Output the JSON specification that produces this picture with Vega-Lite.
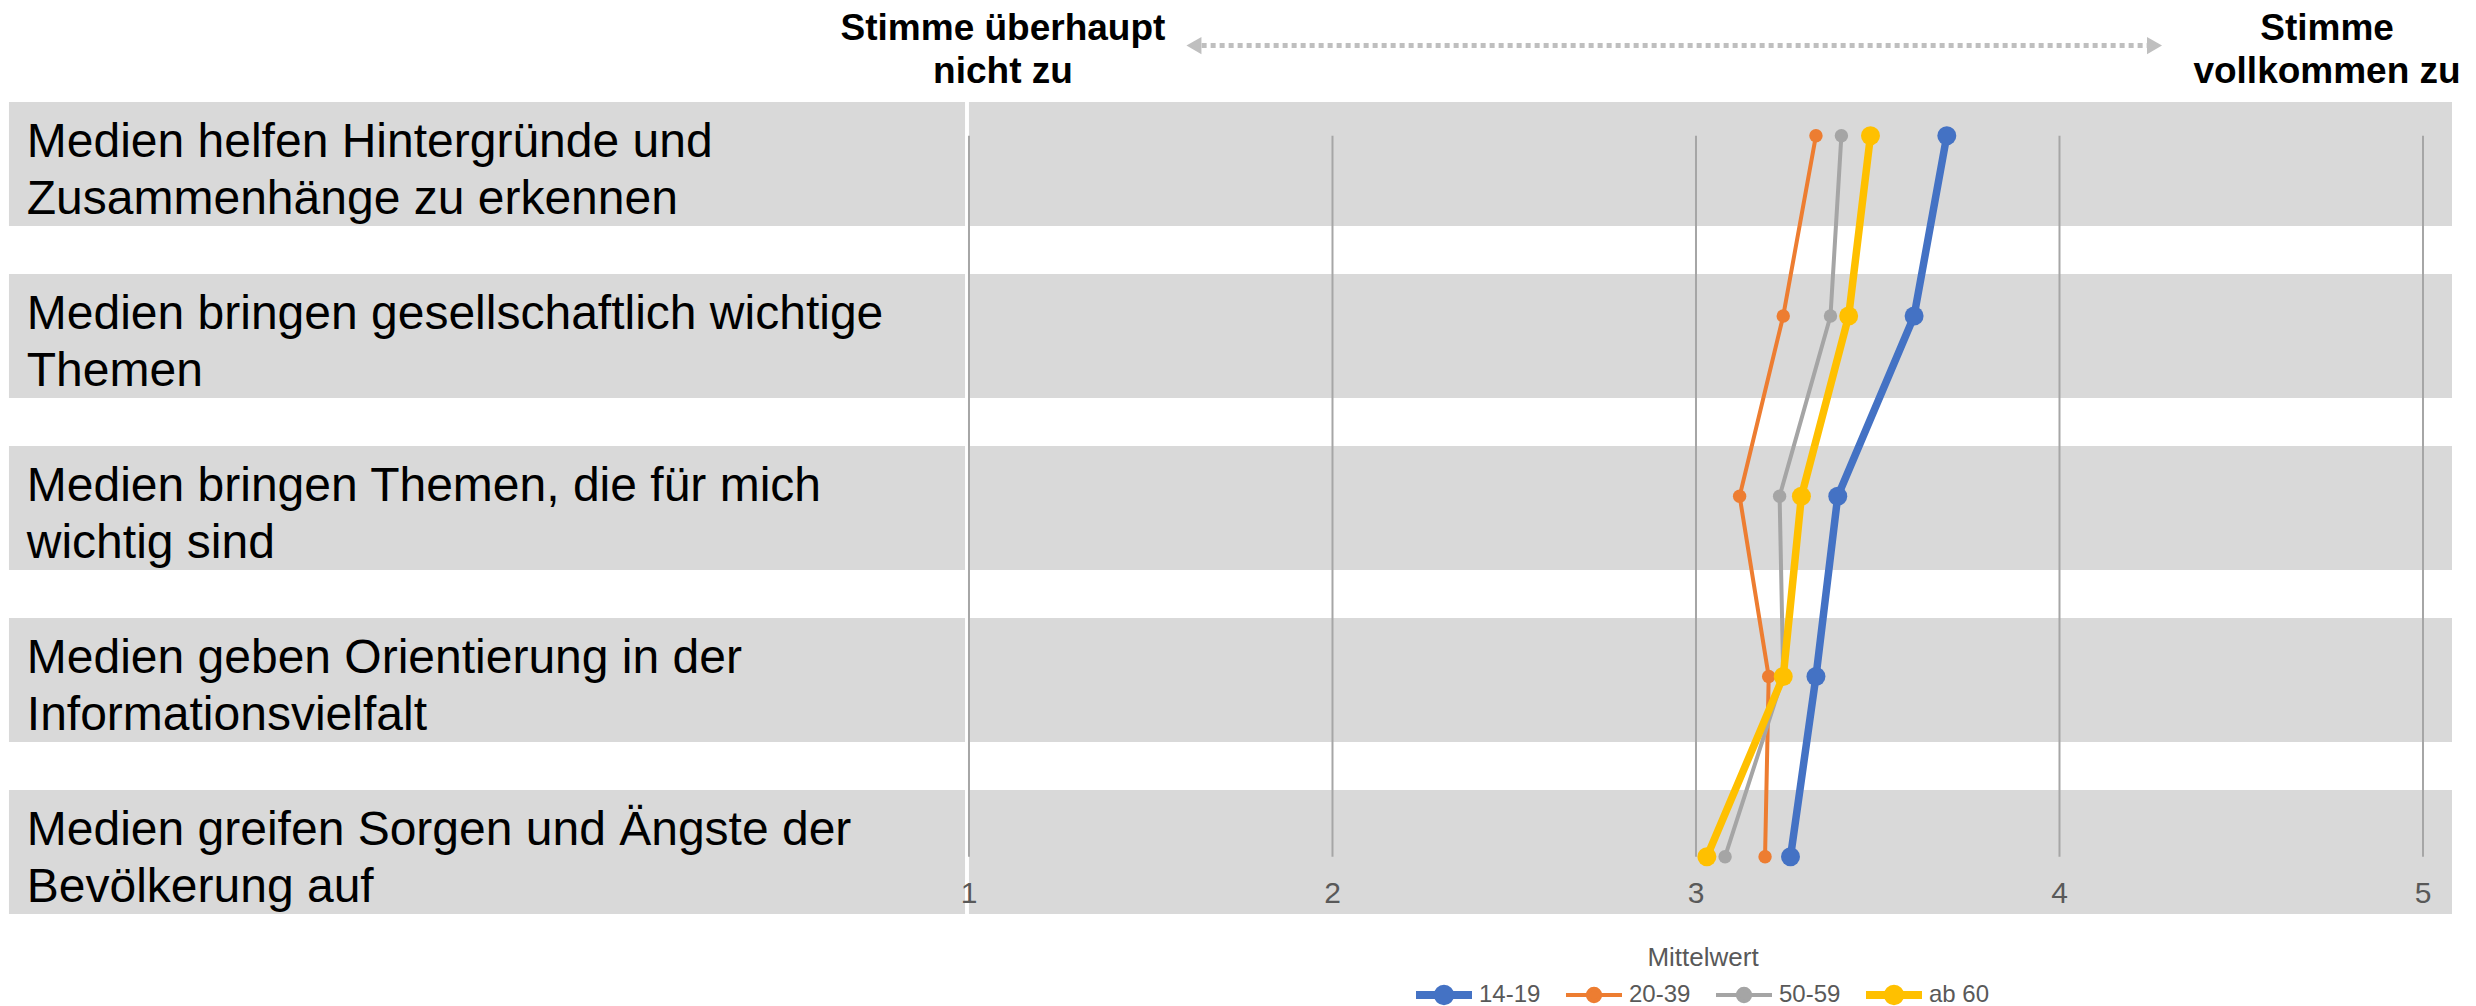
{
  "$schema": "https://vega.github.io/schema/vega-lite/v6.json",
  "width": 2476,
  "height": 1006,
  "autosize": {"type": "none"},
  "padding": 0,
  "background": "white",
  "config": {"view": {"stroke": null}, "font": "Liberation Sans"},
  "datasets": {
    "statements": [
      {"statement": "Medien helfen Hintergründe und Zusammenhänge zu erkennen", "label": "Medien helfen Hintergründe und\nZusammenhänge zu erkennen"},
      {"statement": "Medien bringen gesellschaftlich wichtige Themen", "label": "Medien bringen gesellschaftlich wichtige\nThemen"},
      {"statement": "Medien bringen Themen, die für mich wichtig sind", "label": "Medien bringen Themen, die für mich\nwichtig sind"},
      {"statement": "Medien geben Orientierung in der Informationsvielfalt", "label": "Medien geben Orientierung in der\nInformationsvielfalt"},
      {"statement": "Medien greifen Sorgen und Ängste der Bevölkerung auf", "label": "Medien greifen Sorgen und Ängste der\nBevölkerung auf"}
    ],
    "scores": [
      {"rank": 1, "group": "14-19", "value": 3.69},
      {"rank": 2, "group": "14-19", "value": 3.6},
      {"rank": 3, "group": "14-19", "value": 3.39},
      {"rank": 4, "group": "14-19", "value": 3.33},
      {"rank": 5, "group": "14-19", "value": 3.26},
      {"rank": 1, "group": "20-39", "value": 3.33},
      {"rank": 2, "group": "20-39", "value": 3.24},
      {"rank": 3, "group": "20-39", "value": 3.12},
      {"rank": 4, "group": "20-39", "value": 3.2},
      {"rank": 5, "group": "20-39", "value": 3.19},
      {"rank": 1, "group": "50-59", "value": 3.4},
      {"rank": 2, "group": "50-59", "value": 3.37},
      {"rank": 3, "group": "50-59", "value": 3.23},
      {"rank": 4, "group": "50-59", "value": 3.24},
      {"rank": 5, "group": "50-59", "value": 3.08},
      {"rank": 1, "group": "ab 60", "value": 3.48},
      {"rank": 2, "group": "ab 60", "value": 3.42},
      {"rank": 3, "group": "ab 60", "value": 3.29},
      {"rank": 4, "group": "ab 60", "value": 3.24},
      {"rank": 5, "group": "ab 60", "value": 3.03}
    ],
    "ticks": [{"tick": 1}, {"tick": 2}, {"tick": 3}, {"tick": 4}, {"tick": 5}],
    "header": [{"low": "Stimme überhaupt\nnicht zu", "high": "Stimme\nvollkommen zu"}]
  },
  "resolve": {"scale": {"y": "independent"}},
  "layer": [
    {
      "data": {"name": "statements"},
      "layer": [
        {
          "mark": {"type": "rect", "color": "#D9D9D9"},
          "encoding": {
            "x": {"datum": -1.641, "type": "quantitative", "scale": {"domain": [-1.6657, 5.1458], "nice": false, "zero": false}, "axis": null},
            "x2": {"datum": 5.0798},
            "y": {"field": "statement", "type": "nominal", "sort": null, "axis": null,
                  "scale": {"type": "band", "paddingInner": 0.279, "paddingOuter": 0.564, "align": 0.526}}
          }
        },
        {
          "mark": {"type": "text", "align": "left", "baseline": "middle", "fontSize": 48, "lineHeight": 57, "lineBreak": "\n", "color": "#000000", "font": "Liberation Sans", "dy": -21},
          "encoding": {
            "x": {"datum": -1.592, "type": "quantitative", "axis": null},
            "y": {"field": "statement", "type": "nominal", "sort": null, "axis": null},
            "text": {"field": "label"}
          }
        },
        {
          "mark": {"type": "rule", "color": "white", "strokeWidth": 3},
          "encoding": {
            "x": {"datum": 0.9945, "type": "quantitative", "axis": null}
          }
        }
      ]
    },
    {
      "layer": [
        {
          "data": {"name": "ticks"},
          "mark": {"type": "rule", "color": "#A6A6A6", "strokeWidth": 2},
          "encoding": {
            "x": {"field": "tick", "type": "quantitative", "axis": null},
            "y": {"datum": 1, "type": "quantitative", "axis": null, "scale": {"domain": [0.2472, 5.8284], "reverse": true, "nice": false, "zero": false}},
            "y2": {"datum": 5}
          }
        },
        {
          "data": {"name": "ticks"},
          "mark": {"type": "text", "fontSize": 30, "color": "#595959", "font": "Liberation Sans", "align": "center", "baseline": "middle"},
          "encoding": {
            "x": {"field": "tick", "type": "quantitative", "axis": null},
            "y": {"datum": 5.207, "type": "quantitative", "axis": null},
            "text": {"field": "tick", "type": "quantitative"}
          }
        },
        {
          "data": {"name": "scores"},
          "transform": [{"filter": "datum.group === '20-39' || datum.group === '50-59'"}],
          "mark": {"type": "line", "strokeWidth": 4, "strokeJoin": "round"},
          "encoding": {
            "x": {"field": "value", "type": "quantitative", "axis": null},
            "y": {"field": "rank", "type": "quantitative", "axis": null},
            "order": {"field": "rank"},
            "color": {"field": "group", "type": "nominal",
                      "scale": {"domain": ["14-19", "20-39", "50-59", "ab 60"], "range": ["#4472C4", "#ED7D31", "#A5A5A5", "#FFC000"]},
                      "legend": {
                        "orient": "none", "legendX": 1416, "legendY": 945, "direction": "horizontal",
                        "title": "Mittelwert", "titleFontSize": 26, "titleFont": "Liberation Sans", "titleFontWeight": "normal", "titleColor": "#595959", "titleAnchor": "middle", "titlePadding": -8,
                        "labelFontSize": 24, "labelColor": "#595959", "labelFont": "Liberation Sans", "labelOffset": 23,
                        "symbolType": "M-1,0H1M0.22,0A0.22,0.22,0,1,1,-0.22,0A0.22,0.22,0,1,1,0.22,0Z",
                        "symbolSize": 3136, "symbolOffset": 16, "columnPadding": 25, "clipHeight": 64, "padding": 0,
                        "encode": {"symbols": {"update": {
                          "fill": {"scale": "color", "field": "value"},
                          "stroke": {"scale": "color", "field": "value"},
                          "strokeWidth": {"signal": "datum.value === '14-19' || datum.value === 'ab 60' ? 8 : 4"},
                          "shape": {"value": "M-1,0H1M0.22,0A0.22,0.22,0,1,1,-0.22,0A0.22,0.22,0,1,1,0.22,0Z"},
                          "size": {"value": 3136},
                          "opacity": {"value": 1}
                        }}}
                      }}
          }
        },
        {
          "data": {"name": "scores"},
          "transform": [{"filter": "datum.group === '14-19' || datum.group === 'ab 60'"}],
          "mark": {"type": "line", "strokeWidth": 7.5, "strokeJoin": "round"},
          "encoding": {
            "x": {"field": "value", "type": "quantitative", "axis": null},
            "y": {"field": "rank", "type": "quantitative", "axis": null},
            "order": {"field": "rank"},
            "color": {"field": "group", "type": "nominal"}
          }
        },
        {
          "data": {"name": "scores"},
          "transform": [{"filter": "datum.group === '20-39' || datum.group === '50-59'"}],
          "mark": {"type": "point", "filled": true, "opacity": 1, "size": 180, "shape": "circle"},
          "encoding": {
            "x": {"field": "value", "type": "quantitative", "axis": null},
            "y": {"field": "rank", "type": "quantitative", "axis": null},
            "color": {"field": "group", "type": "nominal"}
          }
        },
        {
          "data": {"name": "scores"},
          "transform": [{"filter": "datum.group === '14-19' || datum.group === 'ab 60'"}],
          "mark": {"type": "point", "filled": true, "opacity": 1, "size": 360, "shape": "circle"},
          "encoding": {
            "x": {"field": "value", "type": "quantitative", "axis": null},
            "y": {"field": "rank", "type": "quantitative", "axis": null},
            "color": {"field": "group", "type": "nominal"}
          }
        },
        {
          "data": {"name": "header"},
          "mark": {"type": "text", "lineBreak": "\n", "align": "center", "baseline": "middle", "fontSize": 37, "fontWeight": "bold", "lineHeight": 43, "color": "#000000", "font": "Liberation Sans", "dy": -17},
          "encoding": {
            "x": {"datum": 1.0935, "type": "quantitative", "axis": null},
            "y": {"datum": 0.5, "type": "quantitative", "axis": null},
            "text": {"field": "low"}
          }
        },
        {
          "data": {"name": "header"},
          "mark": {"type": "text", "lineBreak": "\n", "align": "center", "baseline": "middle", "fontSize": 37, "fontWeight": "bold", "lineHeight": 43, "color": "#000000", "font": "Liberation Sans", "dy": -17},
          "encoding": {
            "x": {"datum": 4.736, "type": "quantitative", "axis": null},
            "y": {"datum": 0.5, "type": "quantitative", "axis": null},
            "text": {"field": "high"}
          }
        },
        {
          "data": {"name": "header"},
          "mark": {"type": "rule", "color": "#BFBFBF", "strokeWidth": 5, "strokeDash": [5, 4]},
          "encoding": {
            "x": {"datum": 1.64, "type": "quantitative", "axis": null},
            "x2": {"datum": 4.245},
            "y": {"datum": 0.5, "type": "quantitative", "axis": null}
          }
        },
        {
          "data": {"name": "header"},
          "mark": {"type": "point", "shape": "triangle-left", "filled": true, "opacity": 1, "size": 300, "color": "#BFBFBF"},
          "encoding": {
            "x": {"datum": 1.6189, "type": "quantitative", "axis": null},
            "y": {"datum": 0.5, "type": "quantitative", "axis": null}
          }
        },
        {
          "data": {"name": "header"},
          "mark": {"type": "point", "shape": "triangle-right", "filled": true, "opacity": 1, "size": 300, "color": "#BFBFBF"},
          "encoding": {
            "x": {"datum": 4.2614, "type": "quantitative", "axis": null},
            "y": {"datum": 0.5, "type": "quantitative", "axis": null}
          }
        }
      ]
    }
  ]
}
